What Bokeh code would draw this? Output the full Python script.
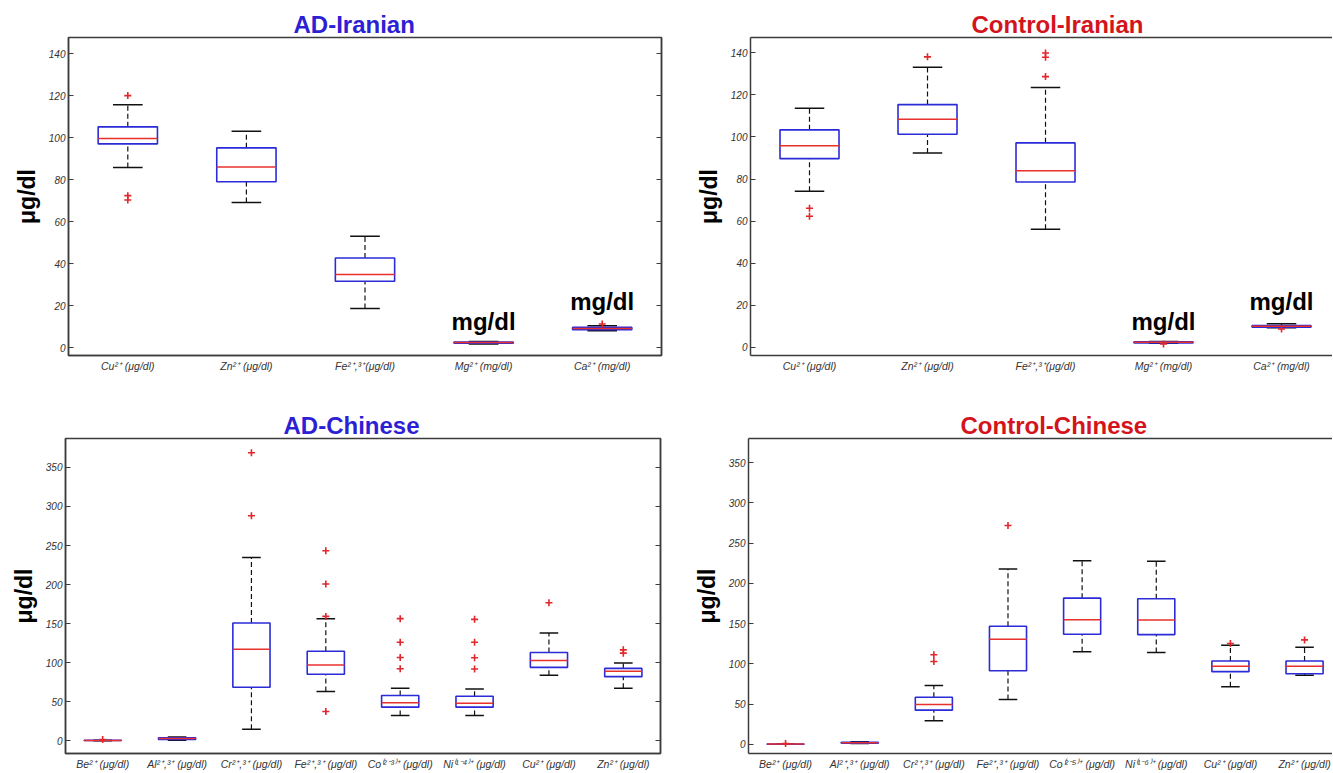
from bokeh.plotting import figure
from bokeh.models import FixedTicker, LinearAxis, Range1d, ColumnDataSource
from bokeh.layouts import column, row
from bokeh.transform import dodge
from bokeh.embed import file_html
from bokeh.resources import INLINE
from bokeh.core.properties import value

# ---------------- data ----------------
# AD-Iranian
ad_ir_labels = ["Cu²⁺ (μg/dl)", "Zn²⁺ (μg/dl)", "Fe²⁺,³⁺(μg/dl)", "Mg²⁺ (mg/dl)", "Ca²⁺ (mg/dl)"]
ad_ir_lower = [85.8, 69.1, 18.6, 1.7, 8.0]
ad_ir_q1 = [97.1, 79.0, 31.6, 2.1, 8.5]
ad_ir_median = [99.6, 86.1, 34.8, 2.4, 9.1]
ad_ir_q3 = [105.2, 95.2, 42.7, 2.6, 9.6]
ad_ir_upper = [115.7, 103.1, 53.1, 2.9, 10.4]
ad_ir_out_idx = [1, 1, 1, 5]
ad_ir_out_val = [120.1, 72.4, 70.3, 11.2]

# Control-Iranian
ct_ir_labels = ["Cu²⁺ (μg/dl)", "Zn²⁺ (μg/dl)", "Fe²⁺,³⁺(μg/dl)", "Mg²⁺ (mg/dl)", "Ca²⁺ (mg/dl)"]
ct_ir_lower = [74.2, 92.4, 56.1, 1.9, 9.3]
ct_ir_q1 = [89.7, 101.3, 78.6, 2.1, 9.6]
ct_ir_median = [95.8, 108.4, 83.9, 2.4, 10.0]
ct_ir_q3 = [103.4, 115.4, 97.2, 2.6, 10.3]
ct_ir_upper = [113.7, 133.2, 123.5, 2.8, 11.2]
ct_ir_out_idx = [1, 1, 2, 3, 3, 3, 4, 5]
ct_ir_out_val = [66.1, 62.3, 138.1, 128.7, 137.9, 139.9, 1.6, 8.7]

# AD-Chinese
ad_ch_labels = ["Be²⁺ (μg/dl)", "Al²⁺,³⁺ (μg/dl)", "Cr²⁺,³⁺ (μg/dl)", "Fe²⁺,³⁺ (μg/dl)",
                "Co⁽²⁻³⁾⁺ (μg/dl)", "Ni⁽¹⁻⁴⁾⁺ (μg/dl)", "Cu²⁺ (μg/dl)", "Zn²⁺ (μg/dl)"]
ad_ch_lower = [0.3, 1.0, 14.8, 63.1, 32.6, 32.6, 83.9, 67.4]
ad_ch_q1 = [0.5, 1.8, 68.6, 85.2, 43.2, 43.2, 94.1, 82.2]
ad_ch_median = [0.6, 3.0, 117.4, 97.0, 48.7, 48.3, 103.0, 89.0]
ad_ch_q3 = [0.8, 4.0, 150.8, 114.8, 58.1, 57.2, 113.1, 92.8]
ad_ch_upper = [1.0, 5.0, 234.7, 156.4, 67.4, 66.5, 138.1, 99.6]
ad_ch_out_idx = [1, 3, 3, 4, 4, 4, 4, 5, 5, 5, 5, 6, 6, 6, 6, 7, 8, 8]
ad_ch_out_val = [1.8, 368.6, 288.1, 243.2, 200.8, 159.3, 37.7, 156.4, 126.3, 106.8, 92.4,
                 155.5, 126.3, 106.4, 92.0, 176.7, 116.5, 112.3]

# Control-Chinese
ct_ch_labels = ["Be²⁺ (μg/dl)", "Al²⁺,³⁺ (μg/dl)", "Cr²⁺,³⁺ (μg/dl)", "Fe²⁺,³⁺ (μg/dl)",
                "Co⁽²⁻⁵⁾⁺ (μg/dl)", "Ni⁽¹⁻⁶⁾⁺ (μg/dl)", "Cu²⁺ (μg/dl)", "Zn²⁺ (μg/dl)"]
ct_ch_lower = [0.0, 1.0, 29.2, 55.6, 114.9, 114.1, 71.6, 85.6]
ct_ch_q1 = [0.1, 1.4, 42.4, 91.4, 136.7, 136.3, 90.2, 87.7]
ct_ch_median = [0.2, 2.0, 49.4, 130.5, 154.8, 154.4, 96.8, 96.8]
ct_ch_q3 = [0.3, 2.5, 58.5, 146.6, 181.6, 180.8, 103.4, 103.4]
ct_ch_upper = [0.4, 3.0, 72.9, 217.8, 228.1, 227.3, 123.1, 120.6]
ct_ch_out_idx = [1, 3, 3, 4, 7, 8]
ct_ch_out_val = [0.8, 111.2, 102.9, 271.8, 125.2, 129.7]

iran_ticks = [0, 20, 40, 60, 80, 100, 120, 140]
china_ticks = [0, 50, 100, 150, 200, 250, 300, 350]

mgdl_idx = [4, 5]
mgdl_y = [12.3, 21.8]

# ---------------- styles ----------------
BLUE_T = "#2d1fd4"
RED_T = "#d3141c"
BOX = "#2b2bd8"
MED = "#e8302c"
OUT = "#e3262b"
AX = "#3c3c3c"
FONT = "Liberation Sans"


def panel(title, tcolor, toffset, labels, lower, q1, med, q3, upper, out_idx, out_val,
          yr, yticks, width, height, mbl, mbr, mbt, mbb, xend, cut_right, mgdl=False):
    n = len(labels)
    xs = list(range(1, n + 1))
    src = ColumnDataSource(dict(x=xs, lo=lower, q1=q1, med=med, q3=q3, up=upper))
    p = figure(width=width, height=height, x_range=Range1d(0.5, xend), y_range=Range1d(*yr),
               output_backend="svg", toolbar_location=None,
               min_border_left=mbl, min_border_right=mbr, min_border_top=mbt,
               min_border_bottom=mbb)
    p.xgrid.visible = False
    p.ygrid.visible = False
    p.background_fill_color = "white"
    p.border_fill_color = "white"

    # title
    p.title.text = title
    p.title.align = "left"
    p.title.offset = toffset
    p.title.text_font = FONT
    p.title.text_font_size = "24px"
    p.title.text_font_style = "bold"
    p.title.text_color = tcolor
    p.title.standoff = 0

    # whiskers
    p.segment(x0="x", y0="q3", x1="x", y1="up", source=src, line_color="#111111",
              line_width=1.2, line_dash="5 3")
    p.segment(x0="x", y0="lo", x1="x", y1="q1", source=src, line_color="#111111",
              line_width=1.2, line_dash="5 3")
    # caps
    p.segment(x0=dodge("x", -0.125), x1=dodge("x", 0.125), y0="up", y1="up", source=src,
              line_color="#111111", line_width=1.5)
    p.segment(x0=dodge("x", -0.125), x1=dodge("x", 0.125), y0="lo", y1="lo", source=src,
              line_color="#111111", line_width=1.5)
    # boxes
    p.vbar(x="x", width=0.5, bottom="q1", top="q3", source=src, fill_color=None,
           line_color=BOX, line_width=1.6)
    # medians
    p.segment(x0=dodge("x", -0.25), x1=dodge("x", 0.25), y0="med", y1="med", source=src,
              line_color=MED, line_width=1.5)
    # outliers
    p.scatter(x=out_idx, y=out_val, marker="cross", size=7, line_color=OUT, line_width=1.6)

    if mgdl:
        p.text(x=mgdl_idx, y=mgdl_y, text=["mg/dl", "mg/dl"], text_align="center",
               text_baseline="alphabetic", text_font=value(FONT), text_font_style="bold",
               text_font_size="24px", text_color="black")

    # y axis
    ya = p.yaxis[0]
    ya.ticker = FixedTicker(ticks=yticks)
    ya.major_tick_in = 5
    ya.major_tick_out = 0
    ya.minor_tick_line_color = None
    ya.major_tick_line_color = AX
    ya.axis_line_color = AX
    ya.axis_line_width = 1.5
    ya.major_label_text_font = FONT
    ya.major_label_text_font_style = "italic"
    ya.major_label_text_font_size = "10px"
    ya.major_label_text_color = "#333333"
    ya.major_label_standoff = 3
    ya.axis_label = "μg/dl"
    ya.axis_label_text_font = FONT
    ya.axis_label_text_font_style = "bold"
    ya.axis_label_text_font_size = "23px"
    ya.axis_label_text_color = "black"
    ya.axis_label_standoff = 6

    # x axis
    xa = p.xaxis[0]
    xa.ticker = FixedTicker(ticks=xs)
    xa.major_label_overrides = {i + 1: lab for i, lab in enumerate(labels)}
    xa.major_tick_in = 0
    xa.major_tick_out = 0
    xa.minor_tick_line_color = None
    xa.major_tick_line_color = None
    xa.axis_line_color = AX
    xa.axis_line_width = 1.5
    xa.major_label_text_font = FONT
    xa.major_label_text_font_style = "italic"
    xa.major_label_text_font_size = "10.5px"
    xa.major_label_text_color = "#333333"
    xa.major_label_standoff = 4

    if cut_right:
        p.outline_line_color = None
        top = LinearAxis(ticker=FixedTicker(ticks=[]), major_label_text_color=None,
                         major_tick_in=0, major_tick_out=0, minor_tick_line_color=None,
                         major_label_standoff=0, axis_line_color=AX, axis_line_width=1.5)
        p.add_layout(top, "above")
    else:
        p.outline_line_color = AX
        p.outline_line_width = 1.5
        ra = LinearAxis(ticker=FixedTicker(ticks=yticks), major_label_text_color=None,
                        major_tick_in=5, major_tick_out=0, minor_tick_line_color=None,
                        major_tick_line_color=AX, major_label_standoff=0,
                        axis_line_color=AX, axis_line_width=1.5)
        p.add_layout(ra, "right")
    return p


p1 = panel("AD-Iranian", BLUE_T, 225, ad_ir_labels, ad_ir_lower, ad_ir_q1, ad_ir_median,
           ad_ir_q3, ad_ir_upper, ad_ir_out_idx, ad_ir_out_val,
           (-3.8, 147.8), iran_ticks, 690, 405, 68, 29, 37, 50, 5.5, False, mgdl=True)
p2 = panel("Control-Iranian", RED_T, 221, ct_ir_labels, ct_ir_lower, ct_ir_q1, ct_ir_median,
           ct_ir_q3, ct_ir_upper, ct_ir_out_idx, ct_ir_out_val,
           (-3.9, 147.3), iran_ticks, 642, 405, 60, 0, 37, 50, 5.432, True, mgdl=True)
p3 = panel("AD-Chinese", BLUE_T, 218, ad_ch_labels, ad_ch_lower, ad_ch_q1, ad_ch_median,
           ad_ch_q3, ad_ch_upper, ad_ch_out_idx, ad_ch_out_val,
           (-16.1, 386.9), china_ticks, 690, 367, 65, 30, 33, 16, 8.5, False)
p4 = panel("Control-Chinese", RED_T, 212, ct_ch_labels, ct_ch_lower, ct_ch_q1, ct_ch_median,
           ct_ch_q3, ct_ch_upper, ct_ch_out_idx, ct_ch_out_val,
           (-11.5, 380.0), china_ticks, 642, 367, 58, 0, 33, 16, 8.377, True)

layout = column(row(p1, p2), row(p3, p4))

open("out.html", "w").write(file_html(layout, INLINE))
